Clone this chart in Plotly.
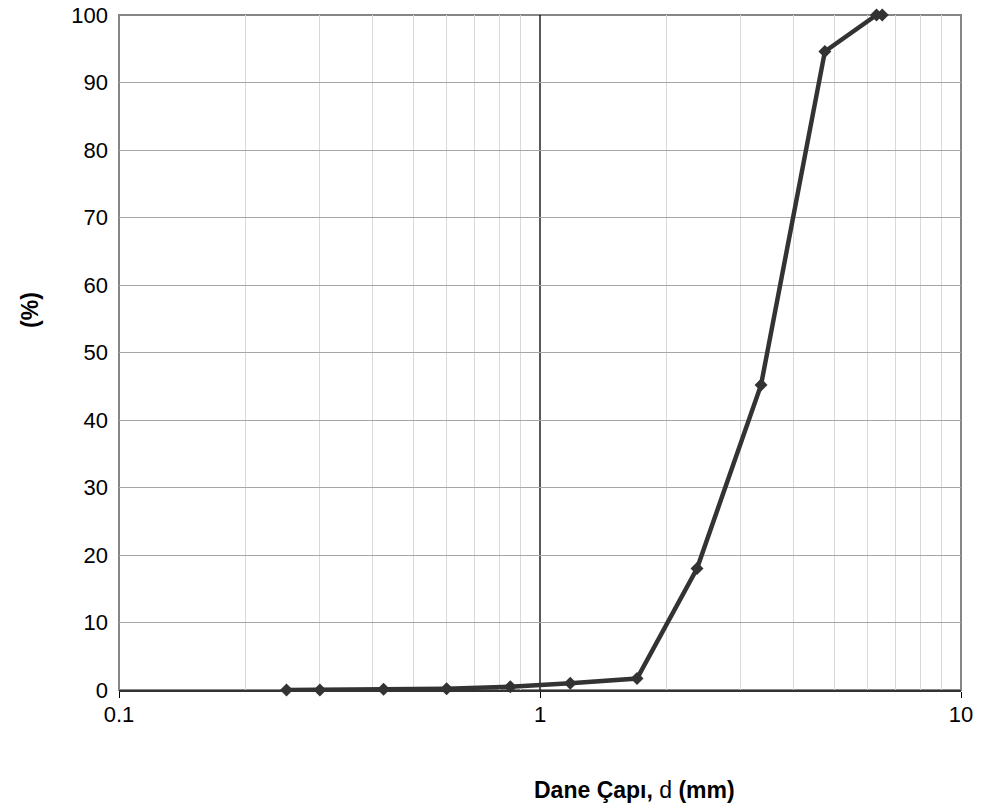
import plotly.graph_objects as go

# Grain size distribution (sieve analysis)
diameters_mm = [0.25, 0.3, 0.425, 0.6, 0.85, 1.18, 1.7, 2.36, 3.35, 4.75, 6.3, 6.5]
passing_pct = [0, 0, 0.1, 0.2, 0.5, 1.0, 1.7, 18, 45.2, 94.6, 100, 100]

x_major = [0.1, 1, 10]
x_major_text = ["0.1", "1", "10"]
x_minor = [m * d for d in (0.1, 1) for m in range(2, 10)]
y_ticks = list(range(0, 101, 10))

FONT = "Liberation Sans, Arial, sans-serif"
LINE_COLOR = "#333333"

fig = go.Figure()
fig.add_trace(go.Scatter(
    x=diameters_mm,
    y=passing_pct,
    mode="lines+markers",
    line=dict(color=LINE_COLOR, width=4.5),
    marker=dict(symbol="diamond", size=10, color=LINE_COLOR),
    showlegend=False,
    cliponaxis=False,
))

# frame of the plot area (gray on top, left and right)
fig.add_shape(type="rect", xref="paper", yref="paper", x0=0, x1=1, y0=0, y1=1,
              line=dict(color="#868686", width=2), layer="between")
# value axis crossing at d = 1
fig.add_shape(type="line", xref="x", yref="paper", x0=1, x1=1, y0=0, y1=1,
              line=dict(color="#000000", width=1.3), layer="between")

# axis titles
fig.add_annotation(text="<b>Dane Çapı,</b> d <b>(mm)</b>", xref="paper", yref="paper",
                   x=0.612, y=-0.148, xanchor="center", yanchor="middle",
                   showarrow=False, font=dict(size=23))
fig.add_annotation(text="<b>(%)</b>", xref="paper", yref="paper",
                   x=-0.1057, y=0.563, xanchor="center", yanchor="middle",
                   textangle=-90, showarrow=False, font=dict(size=23))

fig.update_layout(
    width=981,
    height=808,
    margin=dict(l=119, r=20, t=15, b=118),
    paper_bgcolor="white",
    plot_bgcolor="white",
    font=dict(family=FONT, size=22, color="#000000"),
    xaxis=dict(
        type="log",
        range=[-1, 1],
        automargin=False,
        tickmode="array",
        tickvals=x_major,
        ticktext=x_major_text,
        showgrid=False,
        zeroline=False,
        showline=True,
        linecolor=LINE_COLOR,
        linewidth=2,
        ticks="outside",
        ticklen=6,
        tickcolor="#000000",
        tickwidth=1,
        ticklabelstandoff=-2,
        tickfont=dict(size=22),
        minor=dict(tickmode="array", tickvals=x_minor, showgrid=True,
                   gridcolor="#d9d9d9", gridwidth=1, ticks=""),
    ),
    yaxis=dict(
        range=[0, 100],
        automargin=False,
        tickmode="array",
        tickvals=y_ticks,
        showgrid=True,
        gridcolor="#a6a6a6",
        gridwidth=1,
        zeroline=False,
        showline=False,
        ticks="",
        ticklabelstandoff=10,
        tickfont=dict(size=22),
    ),
)

fig.write_html("out.html")
